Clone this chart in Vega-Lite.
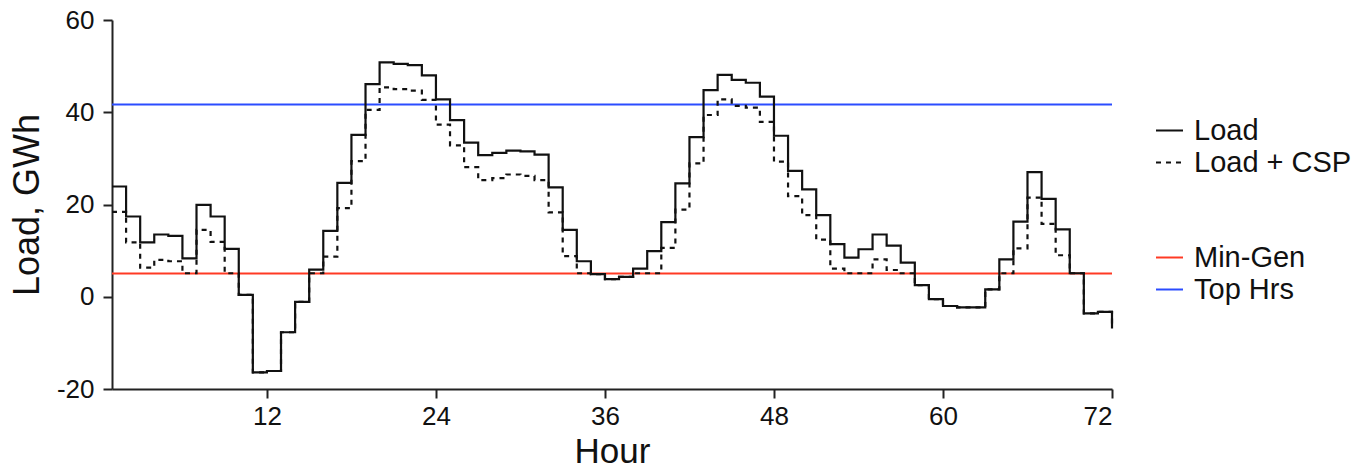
{
  "$schema": "https://vega.github.io/schema/vega-lite/v6.json",
  "width": 1000,
  "height": 369,
  "autosize": {"type": "none"},
  "padding": {"left": 112, "top": 20, "right": 253, "bottom": 79},
  "config": {
    "view": {"stroke": null},
    "font": "Liberation Sans",
    "axis": {
      "domainColor": "#222222",
      "domainWidth": 2,
      "tickColor": "#222222",
      "tickWidth": 2,
      "tickSize": 9,
      "grid": false,
      "labelFont": "Liberation Sans",
      "labelColor": "#111111",
      "titleFont": "Liberation Sans",
      "titleFontWeight": "normal",
      "titleColor": "#111111"
    },
    "legend": {
      "labelFont": "Liberation Sans",
      "labelFontSize": 29,
      "labelColor": "#111111"
    }
  },
  "datasets": {
    "load": [
      {"hour": 1, "series": "Load", "value": 23.9},
      {"hour": 2, "series": "Load", "value": 17.4},
      {"hour": 3, "series": "Load", "value": 11.8},
      {"hour": 4, "series": "Load", "value": 13.5},
      {"hour": 5, "series": "Load", "value": 13.2},
      {"hour": 6, "series": "Load", "value": 8.3},
      {"hour": 7, "series": "Load", "value": 19.9},
      {"hour": 8, "series": "Load", "value": 17.4},
      {"hour": 9, "series": "Load", "value": 10.4},
      {"hour": 10, "series": "Load", "value": 0.4},
      {"hour": 11, "series": "Load", "value": -16.4},
      {"hour": 12, "series": "Load", "value": -16.1},
      {"hour": 13, "series": "Load", "value": -7.7},
      {"hour": 14, "series": "Load", "value": -1.1},
      {"hour": 15, "series": "Load", "value": 5.9},
      {"hour": 16, "series": "Load", "value": 14.3},
      {"hour": 17, "series": "Load", "value": 24.7},
      {"hour": 18, "series": "Load", "value": 35.1},
      {"hour": 19, "series": "Load", "value": 46.1},
      {"hour": 20, "series": "Load", "value": 50.8},
      {"hour": 21, "series": "Load", "value": 50.5},
      {"hour": 22, "series": "Load", "value": 50.2},
      {"hour": 23, "series": "Load", "value": 48.0},
      {"hour": 24, "series": "Load", "value": 42.8},
      {"hour": 25, "series": "Load", "value": 38.3},
      {"hour": 26, "series": "Load", "value": 33.4},
      {"hour": 27, "series": "Load", "value": 30.7},
      {"hour": 28, "series": "Load", "value": 31.2},
      {"hour": 29, "series": "Load", "value": 31.7},
      {"hour": 30, "series": "Load", "value": 31.5},
      {"hour": 31, "series": "Load", "value": 30.8},
      {"hour": 32, "series": "Load", "value": 23.7},
      {"hour": 33, "series": "Load", "value": 14.5},
      {"hour": 34, "series": "Load", "value": 7.7},
      {"hour": 35, "series": "Load", "value": 4.9},
      {"hour": 36, "series": "Load", "value": 3.8},
      {"hour": 37, "series": "Load", "value": 4.3},
      {"hour": 38, "series": "Load", "value": 6.1},
      {"hour": 39, "series": "Load", "value": 9.9},
      {"hour": 40, "series": "Load", "value": 16.2},
      {"hour": 41, "series": "Load", "value": 24.6},
      {"hour": 42, "series": "Load", "value": 34.6},
      {"hour": 43, "series": "Load", "value": 44.8},
      {"hour": 44, "series": "Load", "value": 48.1},
      {"hour": 45, "series": "Load", "value": 47.0},
      {"hour": 46, "series": "Load", "value": 46.4},
      {"hour": 47, "series": "Load", "value": 43.4},
      {"hour": 48, "series": "Load", "value": 34.9},
      {"hour": 49, "series": "Load", "value": 27.3},
      {"hour": 50, "series": "Load", "value": 23.3},
      {"hour": 51, "series": "Load", "value": 17.7},
      {"hour": 52, "series": "Load", "value": 11.4},
      {"hour": 53, "series": "Load", "value": 8.5},
      {"hour": 54, "series": "Load", "value": 10.3},
      {"hour": 55, "series": "Load", "value": 13.5},
      {"hour": 56, "series": "Load", "value": 11.1},
      {"hour": 57, "series": "Load", "value": 7.4},
      {"hour": 58, "series": "Load", "value": 2.5},
      {"hour": 59, "series": "Load", "value": -0.5},
      {"hour": 60, "series": "Load", "value": -2.0},
      {"hour": 61, "series": "Load", "value": -2.3},
      {"hour": 62, "series": "Load", "value": -2.3},
      {"hour": 63, "series": "Load", "value": 1.6},
      {"hour": 64, "series": "Load", "value": 8.1},
      {"hour": 65, "series": "Load", "value": 16.3},
      {"hour": 66, "series": "Load", "value": 27.0},
      {"hour": 67, "series": "Load", "value": 21.2},
      {"hour": 68, "series": "Load", "value": 14.6},
      {"hour": 69, "series": "Load", "value": 5.1},
      {"hour": 70, "series": "Load", "value": -3.6},
      {"hour": 71, "series": "Load", "value": -3.3},
      {"hour": 72, "series": "Load", "value": -6.9},
      {"hour": 1, "series": "Load + CSP", "value": 18.4},
      {"hour": 2, "series": "Load + CSP", "value": 11.8},
      {"hour": 3, "series": "Load + CSP", "value": 6.3},
      {"hour": 4, "series": "Load + CSP", "value": 8.0},
      {"hour": 5, "series": "Load + CSP", "value": 7.7},
      {"hour": 6, "series": "Load + CSP", "value": 5.1},
      {"hour": 7, "series": "Load + CSP", "value": 14.5},
      {"hour": 8, "series": "Load + CSP", "value": 11.9},
      {"hour": 9, "series": "Load + CSP", "value": 5.1},
      {"hour": 10, "series": "Load + CSP", "value": 0.4},
      {"hour": 11, "series": "Load + CSP", "value": -16.4},
      {"hour": 12, "series": "Load + CSP", "value": -16.1},
      {"hour": 13, "series": "Load + CSP", "value": -7.7},
      {"hour": 14, "series": "Load + CSP", "value": -1.1},
      {"hour": 15, "series": "Load + CSP", "value": 5.1},
      {"hour": 16, "series": "Load + CSP", "value": 8.7},
      {"hour": 17, "series": "Load + CSP", "value": 19.2},
      {"hour": 18, "series": "Load + CSP", "value": 29.4},
      {"hour": 19, "series": "Load + CSP", "value": 40.5},
      {"hour": 20, "series": "Load + CSP", "value": 45.4},
      {"hour": 21, "series": "Load + CSP", "value": 45.0},
      {"hour": 22, "series": "Load + CSP", "value": 44.7},
      {"hour": 23, "series": "Load + CSP", "value": 42.7},
      {"hour": 24, "series": "Load + CSP", "value": 37.3},
      {"hour": 25, "series": "Load + CSP", "value": 32.8},
      {"hour": 26, "series": "Load + CSP", "value": 28.1},
      {"hour": 27, "series": "Load + CSP", "value": 25.3},
      {"hour": 28, "series": "Load + CSP", "value": 25.7},
      {"hour": 29, "series": "Load + CSP", "value": 26.5},
      {"hour": 30, "series": "Load + CSP", "value": 26.2},
      {"hour": 31, "series": "Load + CSP", "value": 25.3},
      {"hour": 32, "series": "Load + CSP", "value": 18.3},
      {"hour": 33, "series": "Load + CSP", "value": 8.8},
      {"hour": 34, "series": "Load + CSP", "value": 5.1},
      {"hour": 35, "series": "Load + CSP", "value": 4.9},
      {"hour": 36, "series": "Load + CSP", "value": 3.8},
      {"hour": 37, "series": "Load + CSP", "value": 4.3},
      {"hour": 38, "series": "Load + CSP", "value": 5.1},
      {"hour": 39, "series": "Load + CSP", "value": 5.1},
      {"hour": 40, "series": "Load + CSP", "value": 10.6},
      {"hour": 41, "series": "Load + CSP", "value": 18.9},
      {"hour": 42, "series": "Load + CSP", "value": 28.9},
      {"hour": 43, "series": "Load + CSP", "value": 39.4},
      {"hour": 44, "series": "Load + CSP", "value": 42.8},
      {"hour": 45, "series": "Load + CSP", "value": 41.4},
      {"hour": 46, "series": "Load + CSP", "value": 41.0},
      {"hour": 47, "series": "Load + CSP", "value": 37.9},
      {"hour": 48, "series": "Load + CSP", "value": 29.3},
      {"hour": 49, "series": "Load + CSP", "value": 21.8},
      {"hour": 50, "series": "Load + CSP", "value": 17.7},
      {"hour": 51, "series": "Load + CSP", "value": 12.4},
      {"hour": 52, "series": "Load + CSP", "value": 6.1},
      {"hour": 53, "series": "Load + CSP", "value": 5.1},
      {"hour": 54, "series": "Load + CSP", "value": 5.1},
      {"hour": 55, "series": "Load + CSP", "value": 8.1},
      {"hour": 56, "series": "Load + CSP", "value": 5.8},
      {"hour": 57, "series": "Load + CSP", "value": 5.1},
      {"hour": 58, "series": "Load + CSP", "value": 2.5},
      {"hour": 59, "series": "Load + CSP", "value": -0.5},
      {"hour": 60, "series": "Load + CSP", "value": -2.0},
      {"hour": 61, "series": "Load + CSP", "value": -2.3},
      {"hour": 62, "series": "Load + CSP", "value": -2.3},
      {"hour": 63, "series": "Load + CSP", "value": 1.6},
      {"hour": 64, "series": "Load + CSP", "value": 5.1},
      {"hour": 65, "series": "Load + CSP", "value": 10.5},
      {"hour": 66, "series": "Load + CSP", "value": 21.5},
      {"hour": 67, "series": "Load + CSP", "value": 15.8},
      {"hour": 68, "series": "Load + CSP", "value": 9.0},
      {"hour": 69, "series": "Load + CSP", "value": 5.1},
      {"hour": 70, "series": "Load + CSP", "value": -3.6},
      {"hour": 71, "series": "Load + CSP", "value": -3.3},
      {"hour": 72, "series": "Load + CSP", "value": -6.9}
    ],
    "levels": [
      {"name": "Min-Gen", "value": 5.06},
      {"name": "Top Hrs", "value": 41.7}
    ]
  },
  "layer": [
    {
      "data": {"name": "levels"},
      "mark": {"type": "rule", "strokeWidth": 2},
      "encoding": {
        "y": {"field": "value", "type": "quantitative", "scale": {"domain": [-20, 60], "nice": false, "zero": false}},
        "color": {
          "field": "name",
          "type": "nominal",
          "scale": {"domain": ["Min-Gen", "Top Hrs"], "range": ["#ff3a24", "#2b4cff"]},
          "legend": {
            "title": null,
            "orient": "none",
            "legendX": 1043,
            "legendY": 223,
            "symbolType": "stroke",
            "symbolSize": 729,
            "symbolStrokeWidth": 2,
            "labelOffset": 10,
            "rowPadding": 2
          }
        }
      }
    },
    {
      "data": {"name": "load"},
      "mark": {"type": "line", "interpolate": "step-after", "color": "#111111", "strokeWidth": 2.2},
      "encoding": {
        "x": {
          "field": "hour",
          "type": "quantitative",
          "scale": {"domain": [1, 72], "nice": false, "zero": false},
          "axis": {"values": [12, 24, 36, 48, 60, 72], "title": "Hour", "titleFontSize": 35, "titlePadding": 5, "labelPadding": 5, "labelFontSize": 26}
        },
        "y": {
          "field": "value",
          "type": "quantitative",
          "scale": {"domain": [-20, 60], "nice": false, "zero": false},
          "axis": {"values": [-20, 0, 20, 40, 60], "title": "Load, GWh", "titleFontSize": 36, "titlePadding": 10, "labelPadding": 9, "labelFontSize": 26, "labelExpr": "'' + datum.value"}
        },
        "strokeDash": {
          "field": "series",
          "type": "nominal",
          "scale": {"domain": ["Load", "Load + CSP"], "range": [[1, 0], [5, 5]]},
          "legend": {
            "title": null,
            "orient": "none",
            "legendX": 1043,
            "legendY": 96,
            "symbolType": "stroke",
            "symbolSize": 729,
            "symbolStrokeWidth": 2,
            "symbolStrokeColor": "#111111",
            "labelOffset": 10,
            "rowPadding": 2
          }
        }
      }
    }
  ]
}
